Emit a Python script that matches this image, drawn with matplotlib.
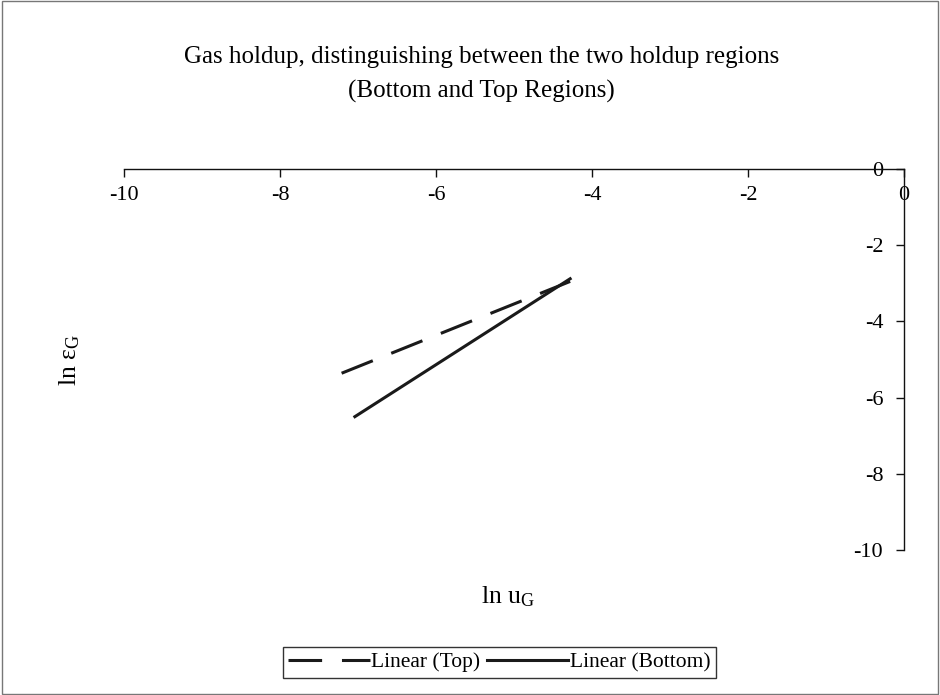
import matplotlib
matplotlib.use("Agg")
import matplotlib.pyplot as plt
from matplotlib.patches import Rectangle

plt.rcParams['font.family'] = ['Liberation Serif', 'DejaVu Serif']
plt.rcParams['mathtext.fontset'] = 'custom'
plt.rcParams['mathtext.rm'] = 'Liberation Serif'
plt.rcParams['mathtext.it'] = 'Liberation Serif:italic'

# data (ln uG, ln eps_G) endpoints of the linear fits
top_x = [-7.21, -4.28]
top_y = [-5.36, -2.95]
bottom_x = [-7.04, -4.28]
bottom_y = [-6.50, -2.88]
x_ticks = [-10, -8, -6, -4, -2, 0]
y_ticks = [0, -2, -4, -6, -8, -10]

fig = plt.figure(figsize=(9.4, 6.95), dpi=100)
ax = fig.add_axes([0.1319, 0.2086, 0.8298, 0.5482])

line_col = '#1a1a1a'
ax.plot(top_x, top_y, color=line_col, lw=2.2, dashes=(11, 6.5), label='Linear (Top)',
        solid_capstyle='butt', dash_capstyle='butt')
ax.plot(bottom_x, bottom_y, color=line_col, lw=2.2, label='Linear (Bottom)')

ax.set_xlim(-10, 0)
ax.set_ylim(-10, 0)
ax.spines['right'].set_visible(False)
ax.spines['top'].set_visible(False)
ax.spines['bottom'].set_position(('data', 0))
ax.spines['left'].set_position(('data', 0))
for s in ('bottom', 'left'):
    ax.spines[s].set_linewidth(1.0)
    ax.spines[s].set_color('#111111')
ax.set_xticks(x_ticks)
ax.set_yticks(y_ticks)
ax.set_xticklabels([str(v) for v in x_ticks])
ax.set_yticklabels([str(v) for v in y_ticks])
ax.tick_params(axis='both', direction='out', length=6, width=1.0, color='#111111',
               labelsize=16)
ax.tick_params(axis='x', pad=6)
ax.tick_params(axis='y', pad=9)
ax.patch.set_visible(False)

fig.text(0.512, 0.918, 'Gas holdup, distinguishing between the two holdup regions',
         ha='center', va='center', fontsize=18)
fig.text(0.512, 0.868, '(Bottom and Top Regions)', ha='center', va='center', fontsize=18)

fig.text(0.540, 0.141, r'ln u$_\mathregular{G}$', ha='center', va='center', fontsize=18.5)
fig.text(0.0745, 0.482, r'ln ε$_\mathregular{G}$', ha='center', va='center', fontsize=18.5,
         rotation=90)

leg = fig.legend(loc='center', bbox_to_anchor=(0.531, 0.047), ncol=2, fontsize=15.5,
                 handlelength=3.8, handletextpad=0.05, columnspacing=0.3,
                 frameon=True, fancybox=False, borderpad=0.25, borderaxespad=0)
leg.get_frame().set_edgecolor('black')
leg.get_frame().set_linewidth(1.0)

fig.patches.append(Rectangle((0.002, 0.002), 0.996, 0.996, transform=fig.transFigure,
                             fill=False, edgecolor='#777777', lw=1.0))

fig.savefig('out.png', dpi=100)
